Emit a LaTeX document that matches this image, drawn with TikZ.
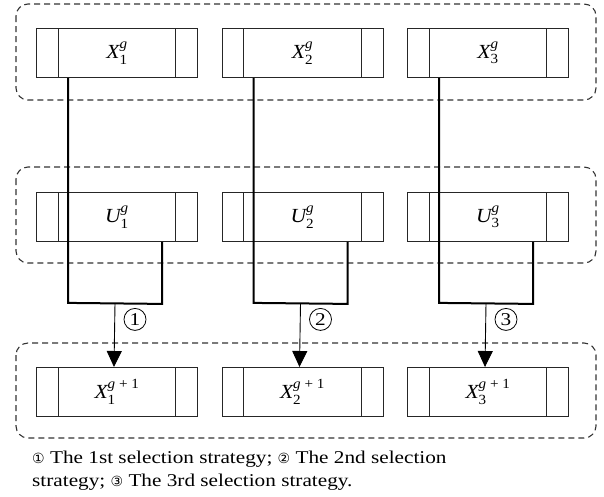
\documentclass[tikz,border=0pt]{standalone}
\usepackage{amsmath}
\usepackage{fontspec}
\setmainfont{Liberation Serif}[FakeStretch=1.18]
\newfontfamily\symfont{DejaVu Sans}
\newfontfamily\labelfont{Liberation Serif}[FakeStretch=1.08]
\usetikzlibrary{calc,arrows.meta}
\tikzset{
  cell/.style={draw=black!85, line width=0.9pt, minimum width=161pt, minimum height=49pt, inner sep=0pt, font=\labelfont\fontsize{20}{24}\selectfont},
  group/.style={draw=black!80, line width=1.1pt, dash pattern=on 6pt off 4pt, rounded corners=12pt},
  thick path/.style={line width=2pt, black},
  selarrow/.style={line width=0.9pt, -{Triangle[length=16pt,width=15pt]}},
  numcirc/.style={circle, draw, line width=0.8pt, inner sep=0pt, minimum size=22pt, font=\fontsize{18}{18}\selectfont},
  divider/.style={draw=black!85, line width=0.9pt},
  caption/.style={anchor=base west, inner sep=0pt, font=\fontsize{18}{22}\selectfont}
}
\newcommand{\cn}[1]{{\symfont\fontsize{14}{14}\selectfont #1}}
\newcommand{\lbl}[3]{$\textit{#1}^{#2}_{\text{#3}}$}
\begin{document}
\begin{tikzpicture}[x=1pt,y=-1pt]
\useasboundingbox (0,0) rectangle (604,496);
% groups
\draw[group] (16,4) rectangle (596,100);
\draw[group] (16,167) rectangle (596,263);
\draw[group] (16,343) rectangle (596,438);
\foreach \i/\L in {1/36,2/221.5,3/407}{
  \node[cell, anchor=north west] (x\i) at (\L,28) {\lbl{X}{\textit{g}}{\i}};
  \node[cell, anchor=north west] (u\i) at (\L,192) {\lbl{U}{\textit{g}}{\i}};
  \node[cell, anchor=north west] (y\i) at (\L,367) {\lbl{X}{\textit{g}\text{ + 1}}{\i}};
  \foreach \r in {x,u,y}{
    \draw[divider] ($(\r\i.north west)+(22,0)$) -- ($(\r\i.south west)+(22,0)$);
    \draw[divider] ($(\r\i.north east)+(-22,0)$) -- ($(\r\i.south east)+(-22,0)$);
  }
  \coordinate (xa\i) at ($(x\i.south west)+(32,0)$);
  \coordinate (ua\i) at ($(u\i.south west)+(126,0)$);
  \coordinate (xb\i) at ($(xa\i)+(0,225)$);
  \coordinate (ub\i) at ($(ua\i)+(0,62)$);
  \coordinate (m\i) at ($(xb\i)!0.5!(ub\i)$);
  \coordinate (t\i) at ($(y\i.north west)+(78,0)$);
  \draw[thick path] (xa\i) -- (xb\i) -- (ub\i) -- (ua\i);
  \draw[selarrow] (m\i) -- (t\i);
  \node[numcirc] (c\i) at ($(m\i)+(20,16)$) {\i};
}
\node[caption] (cap1) at (32,463) {\cn{①} The 1st selection strategy; \cn{②} The 2nd selection};
\node[caption] (cap2) at (32,486) {strategy; \cn{③} The 3rd selection strategy.};
\end{tikzpicture}
\end{document}
